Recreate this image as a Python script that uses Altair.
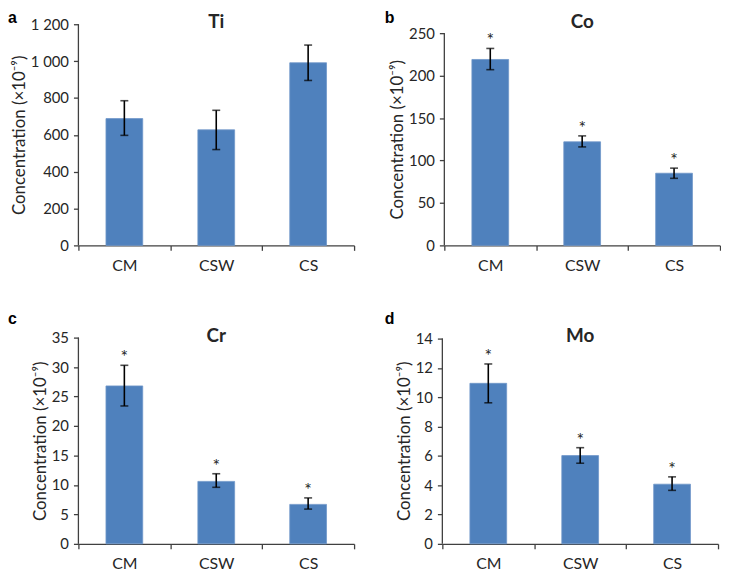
import altair as alt
import pandas as pd

cats = ["CM", "CSW", "CS"]

ti_mean = [688, 627, 991]
ti_lo = [597, 520, 895]
ti_hi = [785, 733, 1087]

co_mean = [219, 122, 85]
co_lo = [207, 116, 79]
co_hi = [232, 129, 91]

cr_mean = [26.8, 10.6, 6.7]
cr_lo = [23.4, 9.6, 5.9]
cr_hi = [30.3, 11.9, 7.8]

mo_mean = [10.95, 6.02, 4.07]
mo_lo = [9.62, 5.5, 3.65]
mo_hi = [12.27, 6.56, 4.57]

ti_ticks = [0, 200, 400, 600, 800, 1000, 1200]
co_ticks = [0, 50, 100, 150, 200, 250]
cr_ticks = [0, 5, 10, 15, 20, 25, 30, 35]
mo_ticks = [0, 2, 4, 6, 8, 10, 12, 14]

FONT = "Lato"
BLUE = "#4F81BD"
AX = "#404040"
TXT = "#262626"
W = 278


def panel(mean, lo, hi, ticks, dmax, title, letter, h, stars, lx, ly, sep=False, title_y=None):
    df = pd.DataFrame({"cat": cats, "mean": mean, "lo": lo, "hi": hi})
    xax = alt.Axis(title=None, labelAngle=0, tickBand="extent", tickSize=5,
                   labelPadding=7, labelFontSize=16, labelFont=FONT,
                   labelColor=TXT, domainColor=AX, tickColor=AX,
                   domainWidth=1.3, tickWidth=1.3, grid=False)
    yargs = dict(values=ticks, title="Concentration (×10⁻⁹)", domain=False,
                 grid=False, tickSize=5, tickColor=AX, tickWidth=1.3,
                 labelPadding=5, labelFontSize=15, labelFont=FONT,
                 labelColor=TXT, titleFont=FONT, titleFontSize=17,
                 titleFontWeight="normal", titleColor=TXT, titlePadding=2,
                 labelOverlap=False)
    if sep:
        yargs["labelExpr"] = "replace(format(datum.value, ','), ',', ' ')"
    if title_y is not None:
        yargs["titleY"] = title_y
    yax = alt.Axis(**yargs)
    ysc = alt.Scale(domain=[0, dmax], nice=False, zero=True)
    x = alt.X("cat:N", sort=cats, scale=alt.Scale(paddingInner=0, paddingOuter=0), axis=xax)

    def Y(f):
        return alt.Y(f, scale=ysc, axis=yax)

    bars = alt.Chart(df).mark_bar(color=BLUE, stroke="#6F96C9", strokeWidth=0.8,
                                  width=alt.RelativeBandSize(0.4)).encode(x=x, y=Y("mean:Q"))
    base = alt.Chart(df).encode(x=alt.X("cat:N", sort=cats))
    err = base.mark_rule(color="black", strokeWidth=1.6).encode(y=Y("lo:Q"), y2="hi:Q")
    caplo = base.mark_tick(color="black", size=8, thickness=1.6).encode(y=Y("lo:Q"))
    caphi = base.mark_tick(color="black", size=8, thickness=1.6).encode(y=Y("hi:Q"))
    one = pd.DataFrame({"v": [0]})
    axisline = alt.Chart(one).mark_rule(color=AX, strokeWidth=1.3).encode(
        x=alt.value(0), y=alt.YDatum(0, scale=ysc, axis=yax), y2=alt.datum(ticks[-1]))
    ttl = alt.Chart(one).mark_text(text=title, font=FONT, fontSize=19, fontWeight="bold",
                                   color=TXT, baseline="alphabetic").encode(
        x=alt.value(W / 2), y=alt.value(4))
    let = alt.Chart(one).mark_text(text=letter, font="Liberation Sans", fontSize=16,
                                   fontWeight="bold", color="black", align="left",
                                   baseline="alphabetic").encode(
        x=alt.value(lx), y=alt.value(ly))
    layers = [bars, err, caplo, caphi, axisline, ttl, let]
    if stars:
        st = base.mark_text(text="*", font=FONT, fontSize=18, color=TXT, dy=-2,
                            baseline="alphabetic").encode(y=Y("hi:Q"))
        layers.append(st)
    return alt.layer(*layers).properties(width=W, height=h)


H1 = 223
H2 = 208
pa = panel(ti_mean, ti_lo, ti_hi, ti_ticks, 1200, "Ti", "a", H1, False, -71, -1, sep=True)
pb = panel(co_mean, co_lo, co_hi, co_ticks, 250 * H1 / 214, "Co", "b", H1, True, -60, -1,
           title_y=116)
pc = panel(cr_mean, cr_lo, cr_hi, cr_ticks, 35, "Cr", "c", H2, True, -71, -14)
pd_ = panel(mo_mean, mo_lo, mo_hi, mo_ticks, 14 * H2 / 207, "Mo", "d", H2, True, -58, -14)

chart = alt.vconcat(
    alt.hconcat(pa, pb, spacing=30),
    alt.hconcat(pc, pd_, spacing=30),
    spacing=38,
).properties(padding=0, background="white").configure_view(stroke=None)

chart.save("out.html", embed_options={"renderer": "svg", "actions": False})
